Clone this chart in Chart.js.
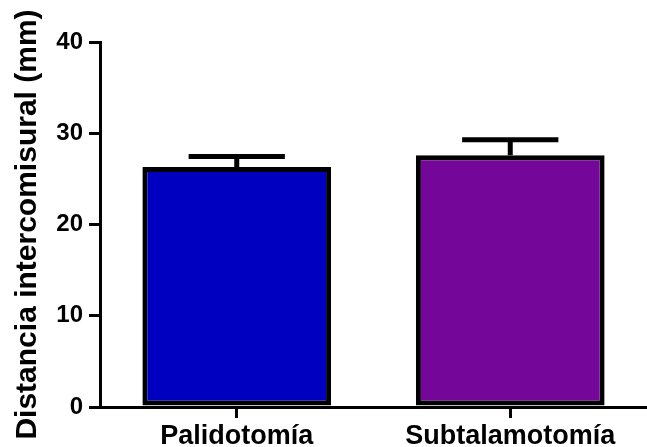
<!DOCTYPE html>
<html>
<head>
<meta charset="utf-8">
<script src="https://cdn.jsdelivr.net/npm/chart.js@4/dist/chart.umd.min.js"></script>
<style>
  html, body { margin: 0; padding: 0; background: #fff; }
  #wrap { width: 647px; height: 447px; position: relative; }
</style>
</head>
<body>
<div id="wrap"><canvas id="c" width="647" height="447"></canvas></div>
<script>
const categories = ['Palidotomía', 'Subtalamotomía'];
const meanValues = [26.3, 27.6];
const errorValues = [1.15, 1.7];
const barColors = ['#0000C0', '#74079A'];
const yTicks = [0, 10, 20, 30, 40];
const yTitle = 'Distancia intercomisural (mm)';

const FONT = "'Liberation Sans', Arial, Helvetica, sans-serif";

const errorBarPlugin = {
  id: 'errorBars',
  afterDatasetsDraw(chart) {
    const ctx = chart.ctx;
    const yScale = chart.scales.y;
    const meta = chart.getDatasetMeta(0);
    ctx.save();
    ctx.strokeStyle = '#000';
    ctx.lineWidth = 5;
    ctx.lineCap = 'butt';
    meta.data.forEach((bar, i) => {
      const v = meanValues[i];
      const e = errorValues[i];
      const yTop = yScale.getPixelForValue(v);
      const yCap = yScale.getPixelForValue(v + e);
      const half = bar.width * 0.255;
      ctx.beginPath();
      ctx.moveTo(bar.x, yTop);
      ctx.lineTo(bar.x, yCap);
      ctx.moveTo(bar.x - half, yCap);
      ctx.lineTo(bar.x + half, yCap);
      ctx.stroke();
    });
    ctx.restore();
  }
};

new Chart(document.getElementById('c'), {
  type: 'bar',
  data: {
    labels: categories,
    datasets: [{
      data: meanValues,
      backgroundColor: barColors,
      borderColor: '#000',
      borderWidth: 5,
      borderSkipped: false,
      categoryPercentage: 1,
      barPercentage: 0.69
    }]
  },
  options: {
    responsive: false,
    animation: false,
    devicePixelRatio: 1,
    layout: { padding: { top: 42, left: 0, right: 0, bottom: 0 } },
    plugins: {
      legend: { display: false },
      tooltip: { enabled: false }
    },
    scales: {
      x: {
        offset: true,
        grid: {
          offset: false,
          drawOnChartArea: false,
          drawTicks: true,
          tickLength: 11,
          lineWidth: 3,
          color: '#000'
        },
        border: { display: true, color: '#000', width: 3 },
        ticks: {
          color: '#000',
          padding: 2,
          font: { family: FONT, size: 27, weight: 'bold' },
          maxRotation: 0
        },
        afterFit(scale) { scale.height = 40; }
      },
      y: {
        min: 0,
        max: 40,
        afterBuildTicks(scale) { scale.ticks = yTicks.map(v => ({ value: v })); },
        grid: {
          drawOnChartArea: false,
          drawTicks: true,
          tickLength: 11,
          lineWidth: 3,
          color: '#000'
        },
        border: { display: true, color: '#000', width: 3 },
        ticks: {
          color: '#000',
          padding: 6,
          font: { family: FONT, size: 24, weight: 'bold' }
        },
        title: {
          display: true,
          text: yTitle,
          color: '#000',
          font: { family: FONT, size: 30, weight: 'bold' },
          padding: { top: 10, bottom: 0 }
        },
        afterFit(scale) { scale.width = 100; }
      }
    }
  },
  plugins: [errorBarPlugin]
});
</script>
</body>
</html>
